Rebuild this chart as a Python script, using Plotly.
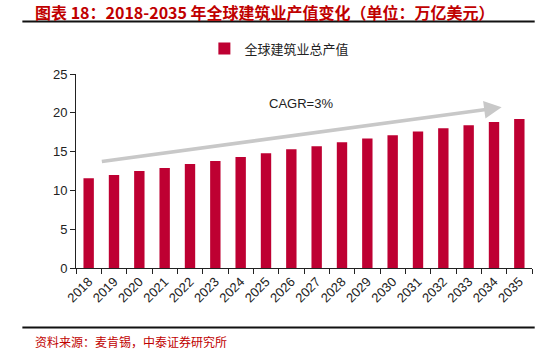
import plotly.graph_objects as go

years = [str(y) for y in range(2018, 2036)]
values = [11.55, 12.0, 12.5, 12.9, 13.4, 13.8, 14.3, 14.8, 15.3, 15.7, 16.2, 16.7, 17.1, 17.6, 18.0, 18.4, 18.8, 19.2]
series_name = "全球建筑业总产值"
y_ticks = [0, 5, 10, 15, 20, 25]

RED = "#BE0032"
TITLE_RED = "#C00000"
CJK = "Noto Sans CJK SC"
LAT = "Liberation Sans, Arial"

fig = go.Figure()
fig.add_trace(go.Bar(x=years, y=values, name=series_name, marker=dict(color=RED, line=dict(width=0)),
                     showlegend=True))

# plot area geometry
L, R, T, B = 75.7, 24.7, 74.3, 84.3
W, H = 557, 352
pw, ph = W - L - R, H - T - B

def px_x(x):
    return (x - L) / pw

def px_y(y):
    return (H - B - y) / ph

fig.update_layout(
    width=W, height=H,
    margin=dict(l=L, r=R, t=T, b=B, autoexpand=False),
    paper_bgcolor="white", plot_bgcolor="white",
    bargap=0.59,
    showlegend=True,
    legend=dict(orientation="h", x=0.446, xanchor="center", y=px_y(49), yanchor="middle",
                font=dict(family=CJK, size=13, color="#222222"), itemwidth=30,
                bgcolor="rgba(0,0,0,0)"),
    xaxis=dict(type="category", showline=True, linecolor="#222222", linewidth=1,
               ticks="outside", ticklen=5, tickcolor="#222222", tickson="boundaries",
               tickangle=-45, tickfont=dict(family=LAT, size=13, color="#222222"),
               showgrid=False, zeroline=False),
    yaxis=dict(range=[0, 25], tickvals=y_ticks, showline=True, linecolor="#222222", linewidth=1,
               ticks="outside", ticklen=5, tickcolor="#222222",
               tickfont=dict(family=LAT, size=13, color="#222222"),
               showgrid=False, zeroline=False),
)

# CAGR arrow
fig.add_annotation(x=16.3, y=20.7, ax=0.46, ay=13.7, xref="x", yref="y", axref="x", ayref="y",
                   showarrow=True, arrowhead=2, arrowsize=1.0, arrowwidth=3.5, arrowcolor="#C8C8C8", text="")
fig.add_annotation(x=8.37, y=21.15, xref="x", yref="y", text="CAGR=3%", showarrow=False,
                   font=dict(family=LAT, size=13, color="#222222"))

# title
fig.add_annotation(x=px_x(33), y=px_y(12), xref="paper", yref="paper", xanchor="left", yanchor="middle",
                   text="<b>图表 18：2018-2035 年全球建筑业产值变化（单位：万亿美元）</b>", showarrow=False,
                   font=dict(family=CJK, size=16, color=TITLE_RED))
# source
fig.add_annotation(x=px_x(33), y=px_y(341), xref="paper", yref="paper", xanchor="left", yanchor="middle",
                   text="资料来源：麦肯锡，中泰证券研究所", showarrow=False,
                   font=dict(family=CJK, size=12, color=TITLE_RED))
# rules
fig.add_shape(type="line", xref="paper", yref="paper", x0=px_x(22), x1=px_x(535), y0=px_y(22), y1=px_y(22),
              line=dict(color="#111111", width=2))
fig.add_shape(type="line", xref="paper", yref="paper", x0=px_x(22), x1=px_x(535), y0=px_y(327), y1=px_y(327),
              line=dict(color="#111111", width=2))

fig.write_html("out.html")
